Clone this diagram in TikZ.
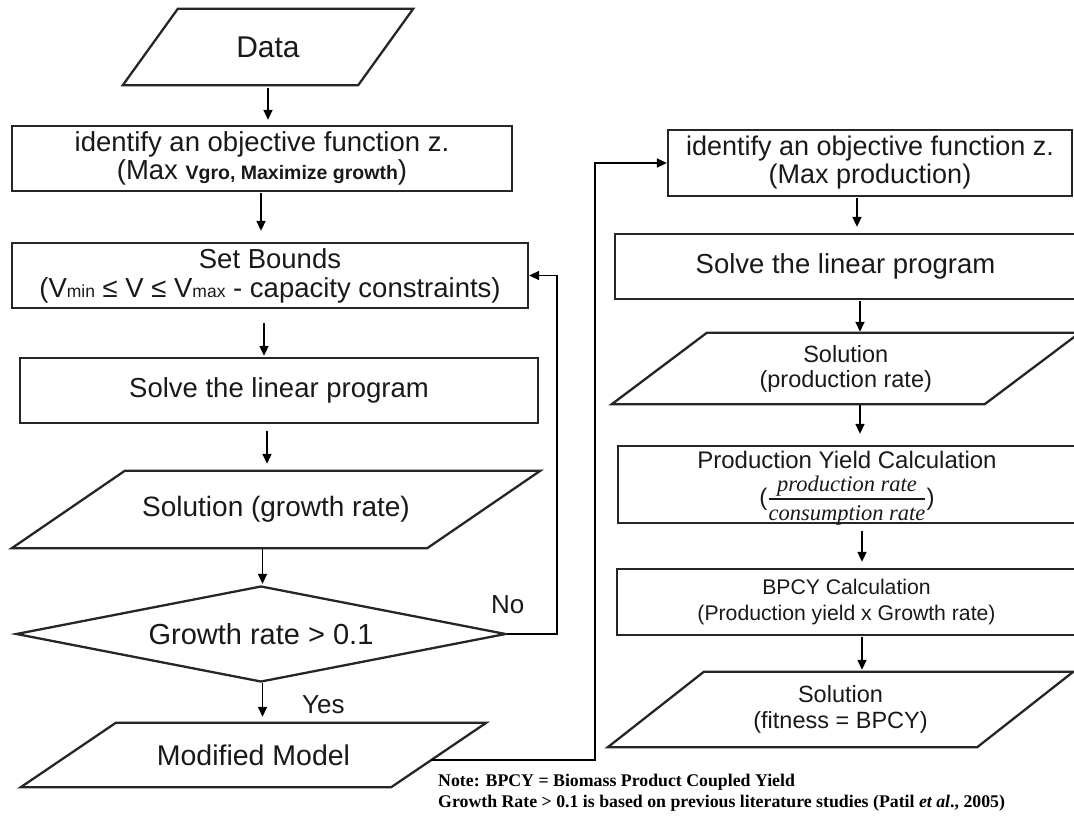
\documentclass[tikz,border=0pt]{standalone}
\usepackage{amsmath}
\usepackage{fontspec}
\setmainfont{Liberation Sans}
\newfontfamily\tnr{Liberation Serif}
\usetikzlibrary{arrows.meta,shapes.geometric}
\newcommand{\fsz}[2]{\fontsize{#1pt}{#2pt}\selectfont}
\newcommand{\drawpara}[2]{\draw[shp] ([xshift=#2pt]#1.north west) -- (#1.north east) -- ([xshift=-#2pt]#1.south east) -- (#1.south west) -- cycle;}
\begin{document}
\begin{tikzpicture}[x=1pt,y=-1pt,
  shp/.style={draw=black!85, line width=2.3pt},
  box/.style={shp, rectangle, inner sep=0pt, align=center, text=black!90},
  hid/.style={rectangle, inner sep=0pt, align=center, text=black!90},
  arr/.style={draw=black, line width=1.6pt, -{Triangle[length=10pt,width=9pt]}},
  lbl/.style={anchor=base west, inner sep=0pt, text=black!90},
  note/.style={anchor=base west, inner sep=0pt, font=\tnr\bfseries\fsz{17.8}{20}}
]
\useasboundingbox (0,0) rectangle (1074,816);

% left column
\node[hid, minimum width=290pt, minimum height=76pt, font=\fsz{30}{32}] (data) at (268,47) {Data};
\node[box, minimum width=500pt, minimum height=65pt, font=\fsz{27.5}{28}] (obj1) at (262,158.5)
  {identify an objective function z.\\(Max {\bfseries\fsz{19.5}{28}Vgro, Maximize growth})};
\node[box, minimum width=516pt, minimum height=65pt, font=\fsz{27.5}{29}] (setb) at (270,275.5)
  {Set Bounds\\(V{\fsz{17.5}{29}min} ≤ V ≤ V{\fsz{17.5}{29}max} - capacity constraints)};
\node[box, minimum width=518pt, minimum height=65pt, font=\fsz{27.5}{29}] (lp1) at (279,390.5) {Solve the linear program};
\node[hid, minimum width=528pt, minimum height=77pt, font=\fsz{28}{29}] (sol1) at (276,509.5) {Solution (growth rate)};
\node[shp, diamond, aspect=5, inner sep=0pt, minimum width=490pt, minimum height=96pt, text=black!90, font=\fsz{29}{30}] (dec) at (261,634) {Growth rate > 0.1};
\node[hid, minimum width=465pt, minimum height=64pt, font=\fsz{28.5}{29}] (mod) at (253.5,755) {Modified Model};
\drawpara{data}{55}
\drawpara{sol1}{113}
\drawpara{mod}{95}
\node[lbl, font=\fsz{26}{28}] (no) at (491,613) {No};
\node[lbl, font=\fsz{26}{28}] (yes) at (302,713) {Yes};

% right column
\node[box, minimum width=404pt, minimum height=66pt, font=\fsz{27}{28}] (obj2) at (870,163)
  {identify an objective function z.\\(Max production)};
\node[box, minimum width=461pt, minimum height=65pt, font=\fsz{27.5}{29}] (lp2) at (845.5,266.5) {Solve the linear program};
\node[hid, minimum width=467.5pt, minimum height=71pt, font=\fsz{23.5}{25}] (sol2) at (845.75,368.5) {Solution\\(production rate)};
\node[box, minimum width=458pt, minimum height=77pt] (py) at (847,484.5) {};
\node[hid, font=\fsz{24}{25}] (pyt) at (847,488)
  {Production Yield Calculation\\[7pt]
   ($\genfrac{}{}{1.6pt}{1}{\mbox{\tnr\itshape\fsz{22.5}{23}production rate}}{\mbox{\rule{0pt}{19pt}\tnr\itshape\fsz{22.5}{23}consumption rate}}$)};
\node[box, minimum width=459pt, minimum height=66pt, font=\fsz{21.2}{26}] (bpcy) at (846.5,602)
  {BPCY Calculation\\(Production yield x Growth rate)};
\node[hid, minimum width=465pt, minimum height=75pt, font=\fsz{23.5}{26}] (fit) at (840.5,709.5) {Solution\\(fitness = BPCY)};
\drawpara{sol2}{95}
\drawpara{fit}{96}

% notes
\node[note] (note1) at (438,786) {Note: BPCY = Biomass Product Coupled Yield};
\node[note] (note2) at (438,807) {Growth Rate > 0.1 is based on previous literature studies (Patil {\itshape et al}., 2005)};

% connectors left
\coordinate (a1) at (268,0);
\coordinate (a2) at (261,0);
\coordinate (a3) at (264,0);
\coordinate (a4) at (267,0);
\coordinate (a5) at (262.5,0);
\draw[arr, shorten <=3pt, shorten >=5pt] (data.south -| a1) -- (obj1.north -| a1);
\draw[arr, shorten <=1pt, shorten >=11pt] (obj1.south -| a2) -- (setb.north -| a2);
\draw[arr, shorten <=14pt, shorten >=1pt] (setb.south -| a3) -- (lp1.north -| a3);
\draw[arr, shorten <=7pt, shorten >=7pt] (lp1.south -| a4) -- (sol1.north -| a4);
\draw[arr, shorten <=1pt, shorten >=1pt] (sol1.south -| a5) -- (dec.north -| a5);
\draw[arr, shorten <=0pt, shorten >=6pt] (dec.south -| a5) -- (mod.north -| a5);

% loop back
\coordinate (lpx) at (557,0);
\draw[arr] (dec.east) -- (dec.east -| lpx) -- (setb.east -| lpx) -- (setb.east);

% to right column
\coordinate (modr) at (431,760);
\coordinate (cpx) at (595,0);
\draw[arr] (modr) -- (modr -| cpx) -- (obj2.west -| cpx) -- (obj2.west);

% connectors right
\coordinate (b1) at (857,0);
\coordinate (b2) at (860,0);
\coordinate (b3) at (862,0);
\draw[arr, shorten <=1pt, shorten >=6pt] (obj2.south -| b1) -- (lp2.north -| b1);
\draw[arr, shorten <=1pt, shorten >=1pt] (lp2.south -| b2) -- (sol2.north -| b2);
\draw[arr, shorten <=1pt, shorten >=11pt] (sol2.south -| b2) -- (py.north -| b2);
\draw[arr, shorten <=7pt, shorten >=6pt] (py.south -| b3) -- (bpcy.north -| b3);
\draw[arr, shorten <=1pt, shorten >=2pt] (bpcy.south -| b3) -- (fit.north -| b3);
\end{tikzpicture}
\end{document}
